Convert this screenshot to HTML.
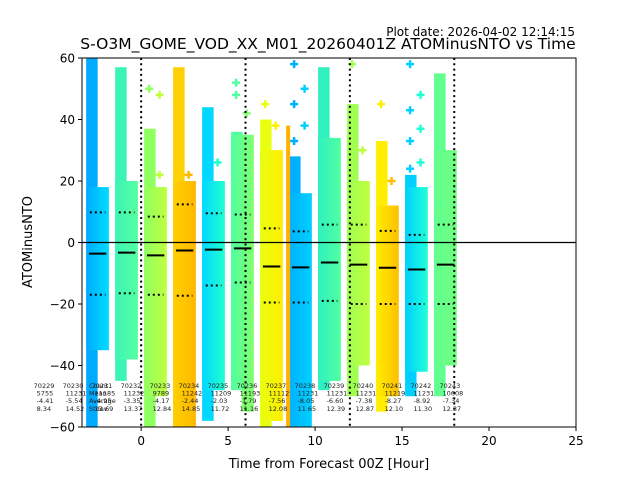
<!DOCTYPE html>
<html><head><meta charset="utf-8">
<style>
html,body{margin:0;padding:0;background:#fff;}
svg{display:block;font-family:"DejaVu Sans","Liberation Sans",sans-serif;}
</style></head>
<body>
<svg id="chart" width="640" height="480" viewBox="0 0 640 480">
<defs id="defs"></defs>
<text x="575" y="36" text-anchor="end" font-size="12">Plot date: 2026-04-02 12:14:15</text>
<text x="328" y="49" text-anchor="middle" font-size="15.5">S-O3M_GOME_VOD_XX_M01_20260401Z ATOMinusNTO vs Time</text>
<g id="plot"></g>
<text x="329" y="468" text-anchor="middle" font-size="13">Time from Forecast 00Z [Hour]</text>
<text x="0" y="0" transform="translate(32,242) rotate(-90)" text-anchor="middle" font-size="13">ATOMinusNTO</text>
</svg>
<script>
const groupX = [-2.5,-0.833,0.833,2.5,4.167,5.833,7.5,9.167,10.833,12.5,14.167,15.833,17.5];
const means = [-3.6,-3.3,-4.2,-2.6,-2.3,-1.9,-7.8,-8.1,-6.5,-7.2,-8.2,-8.8,-7.2];
const upper = [9.8,9.8,8.4,12.4,9.5,9.1,4.6,3.6,5.8,5.8,3.8,2.5,5.8];
const lower = [-17,-16.5,-17,-17.3,-14,-13,-19.5,-19.5,-19,-20,-20,-20,-20];
const topL = [60,57,37,57,44,36,40,28,57,45,33,22,55];
const topR = [18,20,18,20,20,35,30,16,34,20,12,18,30];
const botL = [-60,-45,-60,-60,-58,-48,-60,-60,-48,-50,-55,-50,-50];
const botR = [-35,-38,-50,-60,-48,-55,-58,-60,-45,-40,-50,-42,-40];
const colL = ['#00aaff','#3cf5b5','#90ff60','#ffd000','#00d8ff','#50ffa0','#e8ff10','#00b0ff','#30f0c0','#a0ff50','#ffee00','#00d0ff','#60ff90'];
const colR = ['#00ddff','#55ffa0','#c0ff40','#ffb800','#20ffd0','#80ff70','#ffee00','#00d0ff','#50ffa0','#c0ff40','#ffc000','#20ffd8','#70ff80'];
const outliers = [[],[12,10],[50,48,33,22],[24,22],[30,26],[48,42,52],[45,38,28],[58,50,45,38,33],[],[58,30,20],[45,20,16],[58,48,43,37,33,26,24],[12]];
const ids = ['70229','70230','70231','70232','70233','70234','70235','70236','70237','70238','70239','70240','70241','70242','70243'];
const counts = ['5755','11231','11185','11232','9789','11242','11209','11193','11112','11231','11231','11231','11219','11231','10608'];
const meanTxt = ['-4.41','-5.54','-4.95','-3.35','-4.17','-2.44','-2.03','-1.79','-7.56','-8.05','-6.60','-7.38','-8.27','-8.92','-7.34'];
const stdTxt = ['8.34','14.52','13.69','13.37','12.84','14.85','11.72','11.16','12.08','11.65','12.39','12.87','12.10','11.30','12.37'];
const vlines = [0,6,12,18];
const xTicks = [0,5,10,15,20,25];
const yTicks = [60,40,20,0,-20,-40,-60];

const L=82,R=576,T=58,B=427,X0=-3.4,X1=25,Y0=-60,Y1=60;
const sx=v=>L+(v-X0)/(X1-X0)*(R-L);
const sy=v=>B-(v-Y0)/(Y1-Y0)*(B-T);
const NS='http://www.w3.org/2000/svg';
const plot=document.getElementById('plot');
const svg=document.getElementById('chart');
const defs=document.getElementById('defs');
function mk(tag,attrs,parent){const e=document.createElementNS(NS,tag);for(const k in attrs)e.setAttribute(k,attrs[k]);(parent||plot).appendChild(e);return e;}
const clip=mk('clipPath',{id:'clp'},defs);mk('rect',{x:L,y:T,width:R-L,height:B-T},clip);
const g=mk('g',{'clip-path':'url(#clp)'});


function plus(x,y,c,parent){
  const p=mk('path',{d:`M${x-4},${y}h8M${x},${y-4}v8`,stroke:c,'stroke-width':2.5},parent);
  
  
}
groupX.forEach((cx,i)=>{
  const gr=mk('linearGradient',{id:'gl'+i,x1:0,x2:1,y1:0,y2:0},defs);
  mk('stop',{offset:0,'stop-color':colL[i]},gr);mk('stop',{offset:1,'stop-color':colR[i]},gr);
  const xl=sx(cx-0.66), xm=sx(cx), xr=sx(cx+0.64);
  const rl=mk('rect',{x:xl,y:sy(topL[i]),width:xm-xl,height:sy(botL[i])-sy(topL[i]),fill:colL[i]},g);
  
  
  const rr=mk('rect',{x:xm-1,y:sy(topR[i]),width:xr-xm+1,height:sy(botR[i])-sy(topR[i]),fill:colR[i]},g);
  
  
  const rc=mk('rect',{x:xl,y:sy(Math.min(topL[i],topR[i])),width:xr-xl,height:sy(Math.max(botL[i],botR[i]))-sy(Math.min(topL[i],topR[i])),fill:'url(#gl'+i+')'},g);
  
  
  if(i===7){const o=mk('rect',{x:xl-3,y:sy(38),width:4,height:sy(-60)-sy(38),fill:'#ffb000'},g);
    
    }
  outliers[i].forEach((v,k)=>plus(k%2?xm+4:xl+5,sy(v),k%2?colR[i]:colL[i],g));
});
vlines.forEach(v=>{const l=mk('line',{x1:sx(v),x2:sx(v),y1:T,y2:B,stroke:'#000','stroke-width':2,'stroke-dasharray':'2,3.3'});
  
  });
const z=mk('line',{x1:L,x2:R,y1:sy(0),y2:sy(0),stroke:'#000','stroke-width':1.2});


groupX.forEach((cx,i)=>{
  const m=mk('line',{x1:sx(cx-0.5),x2:sx(cx+0.5),y1:sy(means[i]),y2:sy(means[i]),stroke:'#000','stroke-width':2});
  
  
  [upper[i],lower[i]].forEach(v=>{const d=mk('line',{x1:sx(cx-0.45),x2:sx(cx+0.45),y1:sy(v),y2:sy(v),stroke:'#000','stroke-width':2,'stroke-dasharray':'2,3'});
    
    });
});
// stats labels
const lg=mk('g',{'font-size':'6.5',fill:'#222'},svg);
ids.forEach((id,j)=>{
  const cx=-2.5+(j-2)*1.6667, x=sx(cx)-6;
  [id,counts[j],meanTxt[j],stdTxt[j]].forEach((t,r)=>{
    const e=mk('text',{x:x+(r===0?0:3),y:388+r*7.6},lg);e.textContent=t;
    
    
  });
});
['Count','Mean','Average','Stdev'].forEach((t,r)=>{const e=mk('text',{x:89,y:388+r*7.6},lg);e.textContent=t;
  
  });
// axes frame
const fr=mk('rect',{x:L,y:T,width:R-L,height:B-T,fill:'none',stroke:'#000','stroke-width':1},svg);


xTicks.forEach(v=>{mk('line',{x1:sx(v),x2:sx(v),y1:B,y2:B+4,stroke:'#000'},svg);
  const t=mk('text',{x:sx(v),y:B+18,'text-anchor':'middle','font-size':12},svg);t.textContent=v;
  
  });
yTicks.forEach(v=>{mk('line',{x1:L-4,x2:L,y1:sy(v),y2:sy(v),stroke:'#000'},svg);
  const t=mk('text',{x:L-7,y:sy(v)+4.5,'text-anchor':'end','font-size':12},svg);t.textContent=v<0?'\u2212'+(-v):v;
  
  });
</script>
</body></html>
